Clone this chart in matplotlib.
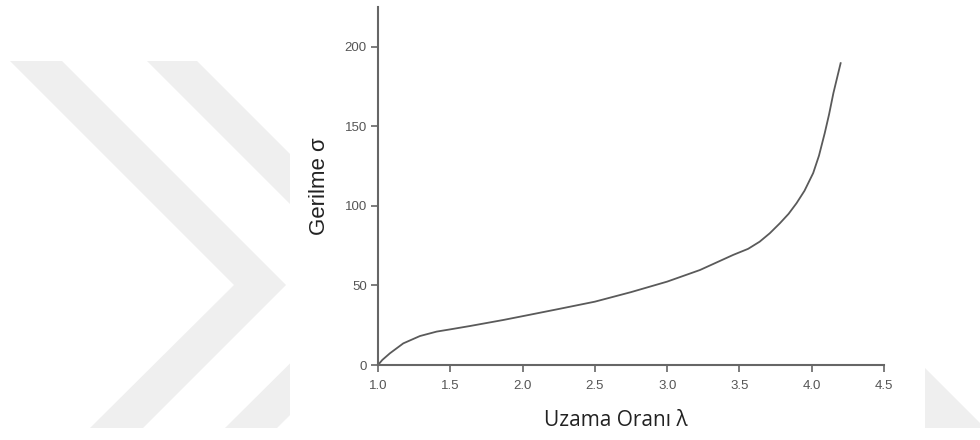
import numpy as np
import matplotlib.pyplot as plt
from matplotlib.patches import Polygon, Rectangle

# stretch ratio vs. stress
lam = [1.0, 1.03, 1.083, 1.175, 1.29, 1.406, 1.5, 1.636, 1.867, 2.04, 2.25,
       2.5, 2.75, 3.0, 3.227, 3.457, 3.56, 3.64, 3.71, 3.78, 3.84, 3.895,
       3.95, 4.01, 4.05, 4.09, 4.12, 4.15, 4.2]
sigma = [0, 3.2, 7.4, 13.6, 18.2, 21, 22.4, 24.5, 28.3, 31.4, 35.2,
         39.8, 45.8, 52.4, 59.7, 69.2, 73.0, 77.5, 82.8, 89.1, 95.0, 101.7,
         109.5, 120.6, 131.5, 145.7, 157.5, 170.9, 189.7]

x_ticks = [1.0, 1.5, 2.0, 2.5, 3.0, 3.5, 4.0, 4.5]
y_ticks = [0, 50, 100, 150, 200]

fig = plt.figure(figsize=(9.8, 4.4), dpi=100)

# light grey chevrons behind the plot (pixel coords)
bg = fig.add_axes([0, 0, 1, 1], zorder=0)
bg.set_xlim(0, 980)
bg.set_ylim(440, 0)
bg.axis('off')
wm = '#efefef'
bg.add_patch(Polygon([(10, 61), (62, 61), (286, 285), (143, 428), (90, 428), (234, 285)],
                     closed=True, fc=wm, ec='none'))
bg.add_patch(Polygon([(147, 61), (197, 61), (421, 285), (277, 428), (225, 428), (370, 284)],
                     closed=True, fc=wm, ec='none'))
bg.add_patch(Polygon([(925, 368), (980, 423), (980, 428), (925, 428)],
                     closed=True, fc=wm, ec='none'))
bg.add_patch(Rectangle((290, 0), 635, 440, fc='white', ec='none'))

ax = fig.add_axes([378 / 980, 75 / 440, 506 / 980, 358 / 440], zorder=1)
ax.patch.set_alpha(0)
ax.plot(lam, sigma, color='#5a5a5a', lw=1.3, solid_joinstyle='round')

ax.set_xlim(1.0, 4.5)
ax.set_ylim(0, 225)
ax.set_xticks(x_ticks)
ax.set_yticks(y_ticks)
ax.set_xticklabels([f'{v:.1f}' for v in x_ticks])

for s in ['top', 'right']:
    ax.spines[s].set_visible(False)
for s in ['left', 'bottom']:
    ax.spines[s].set_color('#666666')
    ax.spines[s].set_linewidth(1.5)

ax.tick_params(axis='both', colors='#666666', length=5, width=1.2,
               labelcolor='#555555', labelsize=9.5)
ax.tick_params(axis='x', pad=6)
ax.tick_params(axis='y', pad=3)
for lbl in ax.get_xticklabels() + ax.get_yticklabels():
    lbl.set_family('Liberation Sans')

ax.set_ylabel('Gerilme σ', fontsize=16, family='Liberation Sans', color='#222222')
ax.yaxis.set_label_coords(-0.095, 0.5)
ax.set_xlabel('Uzama Oranı λ', fontsize=15, family='Open Sans', color='#222222')
ax.xaxis.set_label_coords(0.469, -0.125)

fig.savefig('out.png', dpi=100)
